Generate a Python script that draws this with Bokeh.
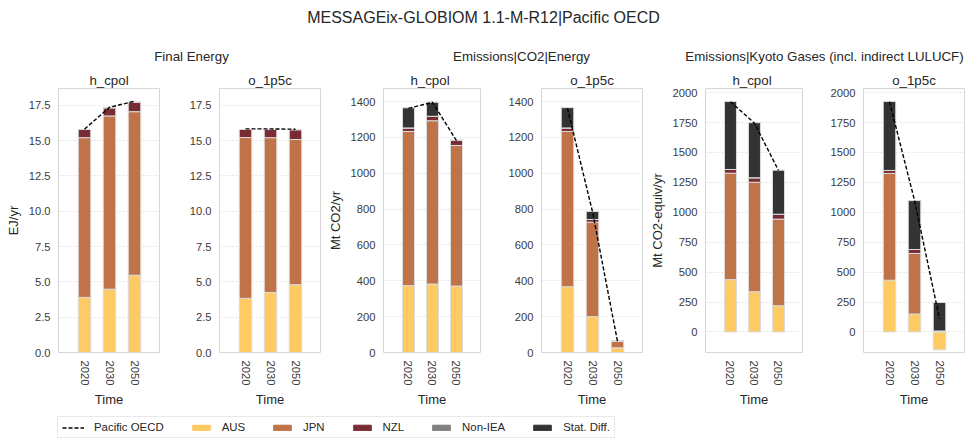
import numpy as np
from bokeh.plotting import figure
from bokeh.models import Range1d, FixedTicker, NumeralTickFormatter, BasicTickFormatter, Legend, LegendItem
from bokeh.layouts import column, row
from bokeh.embed import file_html
from bokeh.resources import INLINE
from bokeh.core.properties import value

FONT = "Liberation Sans"

years = ["2020", "2030", "2050"]
regions = ["AUS", "JPN", "NZL", "Non-IEA", "Stat. Diff."]
region_colors = ["#fdca64", "#c07349", "#7a2c35", "#808080", "#333333"]
total_label = "Pacific OECD"

suptitle = "MESSAGEix-GLOBIOM 1.1-M-R12|Pacific OECD"
variables = ["Final Energy", "Emissions|CO2|Energy", "Emissions|Kyoto Gases (incl. indirect LULUCF)"]
units = ["EJ/yr", "Mt CO2/yr", "Mt CO2-equiv/yr"]
scenarios = ["h_cpol", "o_1p5c"]

# Final Energy
fe_hcpol_aus = [3.90, 4.48, 5.47]
fe_hcpol_jpn = [11.30, 12.26, 11.57]
fe_hcpol_nzl = [0.58, 0.58, 0.68]
fe_hcpol_noniea = [0.0, 0.0, 0.0]
fe_hcpol_stat = [0.0, 0.0, 0.0]
fe_hcpol_total = [15.80, 17.35, 17.78]

fe_o1p5c_aus = [3.83, 4.25, 4.80]
fe_o1p5c_jpn = [11.38, 10.95, 10.27]
fe_o1p5c_nzl = [0.57, 0.58, 0.70]
fe_o1p5c_noniea = [0.0, 0.0, 0.0]
fe_o1p5c_stat = [0.0, 0.0, 0.0]
fe_o1p5c_total = [15.82, 15.82, 15.80]

# Emissions|CO2|Energy
co2_hcpol_aus = [373, 382, 371]
co2_hcpol_jpn = [860, 911, 784]
co2_hcpol_nzl = [20, 25, 30]
co2_hcpol_noniea = [0, 0, 0]
co2_hcpol_stat = [112, 78, 0]
co2_hcpol_total = [1362, 1396, 1182]

co2_o1p5c_aus = [367, 200, 26]
co2_o1p5c_jpn = [866, 527, 38]
co2_o1p5c_nzl = [20, 15, 0]
co2_o1p5c_noniea = [0, 0, 0]
co2_o1p5c_stat = [113, 45, 0]
co2_o1p5c_total = [1362, 785, 62]

# Emissions|Kyoto Gases (incl. indirect LULUCF)
kyo_hcpol_aus = [437, 336, 219]
kyo_hcpol_jpn = [890, 915, 724]
kyo_hcpol_nzl = [31, 38, 41]
kyo_hcpol_noniea = [0, 0, 0]
kyo_hcpol_stat = [568, 460, 368]
kyo_hcpol_total = [1925, 1745, 1350]

kyo_o1p5c_aus = [432, 150, -150]
kyo_o1p5c_jpn = [893, 506, 8]
kyo_o1p5c_nzl = [25, 33, 0]
kyo_o1p5c_noniea = [0, 0, 0]
kyo_o1p5c_stat = [576, 409, 238]
kyo_o1p5c_total = [1925, 1100, 110]

fe_ticks = [0, 2.5, 5, 7.5, 10, 12.5, 15, 17.5]
co2_ticks = [0, 200, 400, 600, 800, 1000, 1200, 1400]
kyo_ticks = [0, 250, 500, 750, 1000, 1250, 1500, 1750, 2000]

TEXT = "#262626"
TICK = "#3a3a3a"


def stack(series_list):
    pos = np.zeros(len(years))
    neg = np.zeros(len(years))
    out = []
    for s in series_list:
        s = np.asarray(s, dtype=float)
        bottom = np.where(s >= 0, pos, neg)
        top = bottom + s
        pos = np.where(s >= 0, top, pos)
        neg = np.where(s < 0, top, neg)
        out.append((bottom, top))
    return out


def panel(series, total, yrange, ticks, fmt, ylabel, bl, br):
    p = figure(width=bl + 101 + br, height=322,
               x_range=Range1d(-1.04, 3.0), y_range=Range1d(*yrange),
               output_backend="svg", toolbar_location=None,
               min_border_left=bl, min_border_right=br,
               min_border_top=0, min_border_bottom=53)
    xs = list(range(len(years)))
    for col, (b, t) in zip(region_colors, stack(series)):
        p.vbar(x=xs, bottom=b, top=t, width=0.5, fill_color=col,
               line_color="#dcdcdc", line_width=1)
    p.line(xs, total, line_dash="4 2", line_color="black", line_width=1.4)

    p.xaxis.ticker = FixedTicker(ticks=xs)
    p.xaxis.major_label_overrides = {i: y for i, y in enumerate(years)}
    p.xaxis.major_label_orientation = "vertical"
    p.xaxis.axis_label = "Time"
    p.yaxis.ticker = FixedTicker(ticks=ticks)
    p.yaxis.formatter = fmt
    p.yaxis.axis_label = ylabel
    for ax in (p.xaxis, p.yaxis):
        ax.axis_line_color = None
        ax.major_tick_line_color = None
        ax.minor_tick_line_color = None
        ax.major_tick_out = 0
        ax.major_tick_in = 0
        ax.minor_tick_out = 0
        ax.minor_tick_in = 0
        ax.major_label_standoff = 8
        ax.major_label_text_font = FONT
        ax.major_label_text_font_size = "11.2px"
        ax.major_label_text_color = TICK
        ax.axis_label_text_font = FONT
        ax.axis_label_text_font_size = "13px"
        ax.axis_label_text_font_style = "normal"
        ax.axis_label_text_color = TEXT
    p.xaxis.axis_label_standoff = 4
    p.yaxis.axis_label_standoff = 5
    p.xgrid.visible = False
    p.ygrid.grid_line_color = "#e2e2e2"
    p.ygrid.grid_line_dash = "2 2"
    p.ygrid.grid_line_width = 1
    p.outline_line_color = "#d6d6d6"
    p.outline_line_width = 1
    p.background_fill_color = "white"
    p.border_fill_color = "white"
    return p


def fmt1():
    return NumeralTickFormatter(format="0.0")


def fmt0():
    return BasicTickFormatter(use_scientific=False)


p1 = panel([fe_hcpol_aus, fe_hcpol_jpn, fe_hcpol_nzl, fe_hcpol_noniea, fe_hcpol_stat],
           fe_hcpol_total, (0, 18.68), fe_ticks, fmt1(), units[0], 58, 22)
p2 = panel([fe_o1p5c_aus, fe_o1p5c_jpn, fe_o1p5c_nzl, fe_o1p5c_noniea, fe_o1p5c_stat],
           fe_o1p5c_total, (0, 18.68), fe_ticks, fmt1(), None, 38, 4)
p3 = panel([co2_hcpol_aus, co2_hcpol_jpn, co2_hcpol_nzl, co2_hcpol_noniea, co2_hcpol_stat],
           co2_hcpol_total, (0, 1473), co2_ticks, fmt0(), units[1], 55, 22)
p4 = panel([co2_o1p5c_aus, co2_o1p5c_jpn, co2_o1p5c_nzl, co2_o1p5c_noniea, co2_o1p5c_stat],
           co2_o1p5c_total, (0, 1473), co2_ticks, fmt0(), None, 39, 4)
p5 = panel([kyo_hcpol_aus, kyo_hcpol_jpn, kyo_hcpol_nzl, kyo_hcpol_noniea, kyo_hcpol_stat],
           kyo_hcpol_total, (-172, 2035), kyo_ticks, fmt0(), units[2], 55, 20)
p6 = panel([kyo_o1p5c_aus, kyo_o1p5c_jpn, kyo_o1p5c_nzl, kyo_o1p5c_noniea, kyo_o1p5c_stat],
           kyo_o1p5c_total, (-172, 2035), kyo_ticks, fmt0(), None, 41, 3)

# header with titles (screen-like coordinates, y measured from the top)
W = 967
HH = 88
hdr = figure(width=W, height=HH, x_range=Range1d(0, W), y_range=Range1d(HH, 0),
             x_axis_type=None, y_axis_type=None, toolbar_location=None,
             output_backend="svg", min_border=0, outline_line_color=None)
hdr.grid.visible = False
hdr.text(x=[483], y=[17], text=[suptitle], text_font=value(FONT), text_font_size="16px",
         text_align="center", text_baseline="middle", text_color=TEXT)
hdr.text(x=[191, 521, 824], y=[56] * 3, text=variables, text_font=value(FONT),
         text_font_size="13.3px", text_align="center", text_baseline="middle", text_color=TEXT)
panel_centers = [108.5, 269.5, 429.5, 591.5, 751.5, 913.5]
hdr.text(x=panel_centers, y=[79.5] * 6, text=scenarios * 3, text_font=value(FONT),
         text_font_size="13.3px", text_align="center", text_baseline="middle", text_color=TEXT)

# legend
lg = figure(width=W, height=30, x_range=Range1d(0, 1), y_range=Range1d(0, 1),
            x_axis_type=None, y_axis_type=None, toolbar_location=None,
            output_backend="svg", min_border=0, outline_line_color=None)
lg.grid.visible = False
r_line = lg.line(x=[-10, -9], y=[-10, -10], line_dash="4 2", line_color="black", line_width=1.4)
items = [LegendItem(label=total_label, renderers=[r_line])]
for name, col in zip(regions, region_colors):
    r = lg.vbar(x=[-10], top=[-10], width=0.5, fill_color=col, line_color=col)
    items.append(LegendItem(label=name, renderers=[r]))
leg = Legend(items=items, orientation="horizontal", location=(57, 2),
             label_text_font=FONT, label_text_font_size="11.4px", label_text_color=TEXT,
             glyph_width=22, glyph_height=7, label_standoff=10, spacing=26,
             padding=4, margin=0, label_height=10,
             border_line_color="#d4d4d4", border_line_width=1,
             background_fill_color="white")
lg.add_layout(leg)

layout = column(hdr, row(p1, p2, p3, p4, p5, p6), lg)

open("out.html", "w").write(file_html(layout, INLINE))
